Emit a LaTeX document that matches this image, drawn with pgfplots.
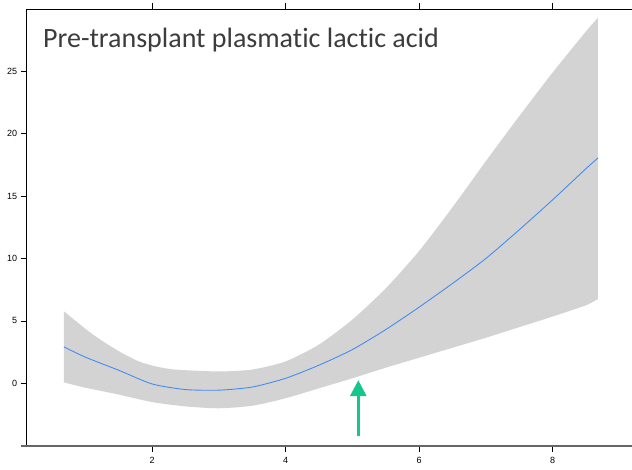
\documentclass[border=0pt]{standalone}
\usepackage{fontspec}
\setmainfont{Liberation Sans}
\newfontfamily\titlefont[Ligatures={NoCommon}]{Carlito}
\usepackage{pgfplots}
\pgfplotsset{compat=1.18}
\usepgfplotslibrary{fillbetween}
\usetikzlibrary{arrows.meta}
\definecolor{bandgray}{RGB}{211,211,211}
\definecolor{fitblue}{RGB}{70,140,240}
\definecolor{arrowgreen}{RGB}{20,200,140}
\definecolor{titlecol}{RGB}{60,60,60}
\begin{document}
\begin{tikzpicture}[x=1pt,y=1pt]
\begin{axis}[
  at={(26.7pt,23.3pt)}, anchor=south west,
  scale only axis, width=605.3pt, height=436.7pt,
  xmin=0.123, xmax=9.19, ymin=-5, ymax=30,
  axis x line=box, axis y line=left,
  axis line style={-, black, line width=0.8pt},
  xtick={2,4,6,8}, ytick={0,5,10,15,20,25},
  tick align=outside, major tick length=6pt,
  tick style={black, line width=0.8pt},
  xtick pos=both, ytick pos=left,
  xticklabel pos=lower,
  tick label style={font=\fontsize{9}{10}\selectfont, text=black},
  /pgf/number format/assume math mode=true,
  xticklabel style={yshift=-2pt},
  clip=false,
]
\addplot[name path=up, draw=none, smooth, tension=0.4] coordinates {
(0.68,5.77) (1.05,4.17) (1.3,3.24) (1.55,2.43) (1.8,1.76) (2.05,1.36) (2.35,1.1)
(3.0,0.95) (3.5,1.1) (4.0,1.75) (4.5,3.1) (5.0,5.1) (5.5,7.6) (6.0,10.6)
(6.5,14.1) (7.0,17.8) (7.5,21.4) (8.0,24.9) (8.5,28.2) (8.68,29.3)};
\addplot[name path=lo, draw=none, smooth, tension=0.4] coordinates {
(0.68,0.08) (1.0,-0.35) (1.5,-0.9) (2.0,-1.5) (2.5,-1.85) (3.0,-2.0) (3.5,-1.8)
(4.0,-1.2) (4.5,-0.4) (5.0,0.4) (5.5,1.25) (6.0,2.05) (6.5,2.85) (7.0,3.65)
(7.5,4.5) (8.0,5.35) (8.5,6.25) (8.68,6.76)};
\addplot[bandgray, draw=none] fill between[of=up and lo];
\addplot[fitblue, line width=0.9pt, smooth, tension=0.4] coordinates {
(0.68,2.92) (1.0,2.1) (1.5,1.05) (2.0,-0.05) (2.5,-0.5) (3.0,-0.55) (3.5,-0.3)
(4.0,0.4) (4.5,1.45) (5.0,2.7) (5.5,4.3) (6.0,6.1) (6.5,8.0) (7.0,10.0)
(7.5,12.3) (8.0,14.7) (8.5,17.2) (8.68,18.06)};
\addplot[arrowgreen, line width=3pt, -{Triangle[width=16pt,length=16pt]}] coordinates {(5.09,-4.25) (5.09,0.25)};
\draw[black!60, line width=1.8pt] (rel axis cs:-0.01,0) -- (rel axis cs:1,0);
\end{axis}
\node[anchor=base west, inner sep=0pt, text=titlecol, font=\titlefont\fontsize{28}{33}\selectfont] at (43pt,421pt) {Pre-transplant plasmatic lactic acid};
\pgfresetboundingbox
\path[use as bounding box] (0,0) rectangle (632pt,469pt);
\end{tikzpicture}
\end{document}
